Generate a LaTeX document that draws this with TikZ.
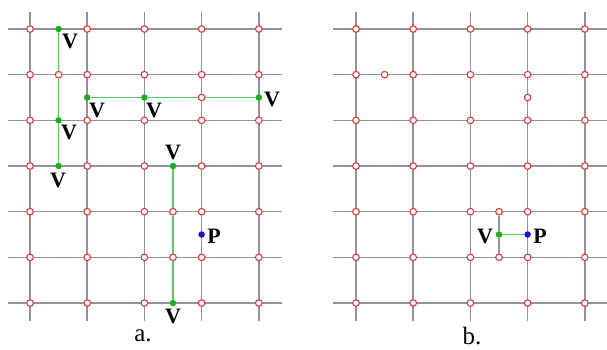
\documentclass[tikz,border=0pt]{standalone}
\usepackage{fontspec}
\setmainfont{Liberation Serif}
\definecolor{gridgray}{RGB}{145,145,160}
\definecolor{nodered}{RGB}{235,55,55}
\definecolor{nodegreen}{RGB}{25,175,25}
\definecolor{nodeblue}{RGB}{20,20,225}
\definecolor{linegreen}{RGB}{90,205,90}
\begin{document}
\begin{tikzpicture}[x=1pt,y=-1pt,
  gridline/.style={draw=gridgray,line width=1.5pt},
  rnode/.style={circle,draw=nodered,fill=white,line width=1.1pt,minimum size=6.6pt,inner sep=0pt},
  gnode/.style={circle,fill=nodegreen,minimum size=6.5pt,inner sep=0pt},
  bnode/.style={circle,fill=nodeblue,minimum size=6.5pt,inner sep=0pt},
  gpath/.style={draw=linegreen,line width=1.1pt},
  lab/.style={font=\fontsize{22}{22}\selectfont\bfseries,inner sep=0pt},
  captxt/.style={font=\fontsize{25}{25}\selectfont,inner sep=0pt}
]
\useasboundingbox (0,0) rectangle (607,349);
\def\dx{57.2}\def\dy{45.67}
% ---------- panel a ----------
\foreach \i in {0,...,4} \draw[gridline] ({30+\dx*\i},12) -- ({30+\dx*\i},321);
\foreach \j in {0,...,6} \draw[gridline] (8,{29+\dy*\j}) -- (282,{29+\dy*\j});
\foreach \i in {0,...,4} \foreach \j in {0,...,6}
  \node[rnode] (a-\i-\j) at ({30+\dx*\i},{29+\dy*\j}) {};
% extra nodes in a
\node[gnode] (ag1) at ({30+\dx*0.5},{29+\dy*0}) {};
\node[rnode] (ar1) at ({30+\dx*0.5},{29+\dy*1}) {};
\node[gnode] (ag2) at ({30+\dx*0.5},{29+\dy*2}) {};
\node[gnode] (ag3) at ({30+\dx*0.5},{29+\dy*3}) {};
\node[gnode] (ah1) at ({30+\dx*1},{29+\dy*1.5}) {};
\node[gnode] (ah2) at ({30+\dx*2},{29+\dy*1.5}) {};
\node[rnode] (ah3) at ({30+\dx*3},{29+\dy*1.5}) {};
\node[gnode] (ah4) at ({30+\dx*4},{29+\dy*1.5}) {};
\node[gnode] (av1) at ({30+\dx*2.5},{29+\dy*3}) {};
\node[rnode] (av2) at ({30+\dx*2.5},{29+\dy*4}) {};
\node[rnode] (av3) at ({30+\dx*2.5},{29+\dy*5}) {};
\node[gnode] (av4) at ({30+\dx*2.5},{29+\dy*6}) {};
\node[bnode] (ap) at ({30+\dx*3},{29+\dy*4.5}) {};
\draw[gpath] (ag1) -- (ar1) -- (ag2) -- (ag3);
\draw[gpath] (ah1) -- (ah2) -- (ah3) -- (ah4);
\draw[gpath] (av1) -- (av2) -- (av3) -- (av4);
% labels a
\node[lab] (lv1) at (70,41) {V};
\node[lab] (lv2) at (97,110) {V};
\node[lab] (lv3) at (154,110) {V};
\node[lab] (lv4) at (272,99) {V};
\node[lab] (lv5) at (69,132) {V};
\node[lab] (lv6) at (58,180) {V};
\node[lab] (lv7) at (173,152) {V};
\node[lab] (lv8) at (173,316) {V};
\node[lab] (lp) at (214,236) {P};
\node[captxt] (capa) at (143,336) {a.};
% ---------- panel b ----------
\foreach \i in {0,...,4} \draw[gridline] ({356+\dx*\i},12) -- ({356+\dx*\i},321);
\foreach \j in {0,...,6} \draw[gridline] (333,{29+\dy*\j}) -- (607,{29+\dy*\j});
\foreach \i in {0,...,4} \foreach \j in {0,...,6}
  \node[rnode] (b-\i-\j) at ({356+\dx*\i},{29+\dy*\j}) {};
\node[rnode] (bx1) at ({356+\dx*0.5},{29+\dy*1}) {};
\node[rnode] (bx2) at ({356+\dx*3},{29+\dy*1.5}) {};
\node[rnode] (bt) at ({356+\dx*2.5},{29+\dy*4}) {};
\node[rnode] (bb) at ({356+\dx*2.5},{29+\dy*5}) {};
\node[gnode] (bg) at ({356+\dx*2.5},{29+\dy*4.5}) {};
\node[bnode] (bp) at ({356+\dx*3},{29+\dy*4.5}) {};
\draw[gridline] (bt) -- (bg) -- (bb);
\draw[gpath] (bg) -- (bp);
\node[lab] (lbv) at (485,236) {V};
\node[lab] (lbp) at (540,236) {P};
\node[captxt] (capb) at (472,336) {b.};
\end{tikzpicture}
\end{document}
